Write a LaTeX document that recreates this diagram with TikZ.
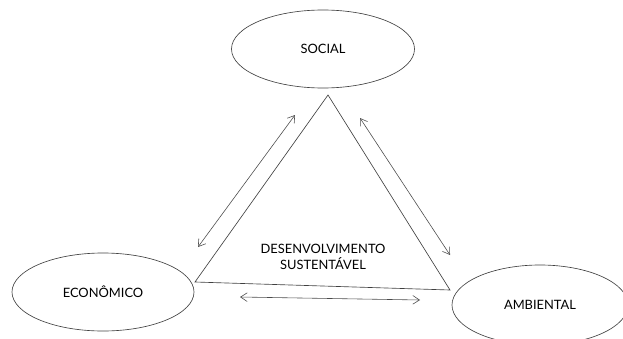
\documentclass[tikz,border=0pt]{standalone}
\usepackage{fontspec}
\setmainfont{Lato}
\usetikzlibrary{arrows.meta, shapes.geometric, calc}
\tikzset{
  pil/.style={ellipse, draw=black!75, line width=0.55pt, inner sep=0pt, font=\fontsize{11}{13}\selectfont},
  tri/.style={draw=black!75, line width=0.55pt, line join=miter},
  rel/.style={{Straight Barb[length=2mm, width=2.6mm]}-{Straight Barb[length=2mm, width=2.6mm]}, draw=black!70, line width=0.5pt},
  lab/.style={align=center, inner sep=0pt, font=\fontsize{11}{14}\selectfont}
}

\begin{document}
\begin{tikzpicture}[x=0.03cm, y=-0.03cm]
	\useasboundingbox (0,0) rectangle (623,338);
	\node[pil, minimum width=5.49cm, minimum height=2.34cm] (soc) at (323,49) {SOCIAL};
	\node[pil, minimum width=5.46cm, minimum height=2.34cm] (eco) at (103,292) {ECONÔMICO};
	\node[pil, minimum width=5.28cm, minimum height=2.4cm] (amb) at (540,305) {AMBIENTAL};
	% triangle
	\coordinate (ta) at (328,95);
	\coordinate (tb) at (195,282);
	\coordinate (tc) at (450,290);
	\draw[tri] (ta) -- (tb) -- (tc) -- cycle;
	\node[lab] (ds) at (323,257) {DESENVOLVIMENTO\\SUSTENTÁVEL};
	% relations
	\coordinate (l1) at (295,115);
	\coordinate (l2) at (198,247);
	\coordinate (r1) at (360,118);
	\coordinate (r2) at (450,255);
	\coordinate (b1) at (240,297);
	\coordinate (b2) at (420,300);
	\draw[rel] (l1) -- (l2);
	\draw[rel] (r1) -- (r2);
	\draw[rel] (b1) -- (b2);
\end{tikzpicture}
\end{document}
